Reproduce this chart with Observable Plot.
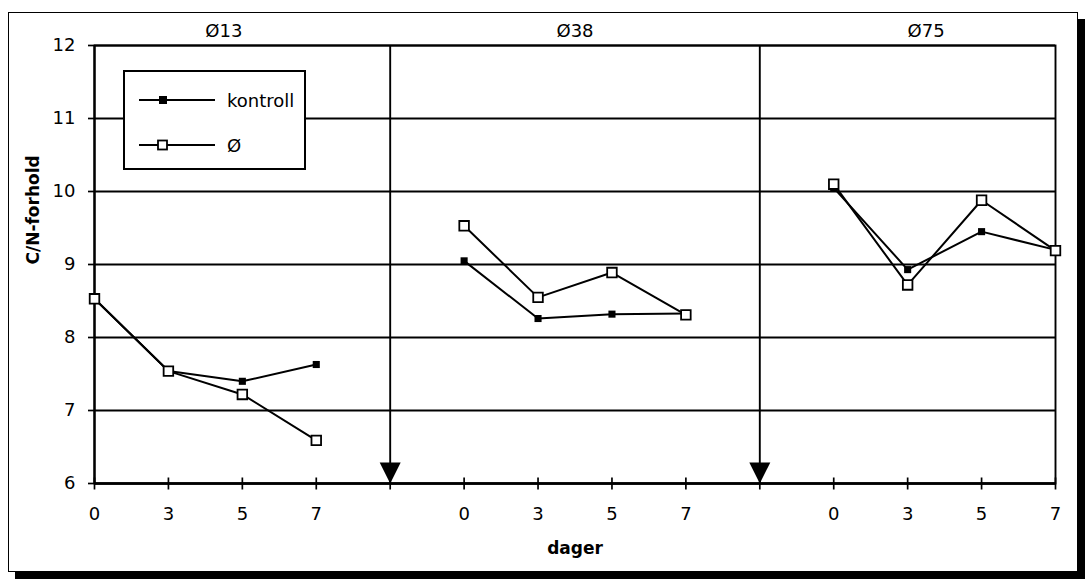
<!DOCTYPE html>
<html>
<head>
<meta charset="utf-8">
<script src="https://cdn.jsdelivr.net/npm/d3@7"></script>
<script src="https://cdn.jsdelivr.net/npm/@observablehq/plot@0.6"></script>
<style>
  html, body { margin: 0; padding: 0; background: #fff; }
  #frame {
    position: absolute; left: 8px; top: 12px; width: 1068px; height: 558px;
    border: 1.5px solid #000; box-shadow: 7px 7px 0 0 #000; background: #fff;
  }
  #chart { position: absolute; left: 0; top: 0; }
  #legend {
    position: absolute; left: 114px; top: 57px; width: 179px; height: 96px;
    border: 2px solid #000; background: #fff;
    font-family: "DejaVu Sans", sans-serif; font-size: 18px; color: #000;
  }
  #legend .row { position: absolute; left: 0; height: 24px; display: flex; align-items: center; }
  #legend svg { display: block; }
  #legend span { margin-left: 10px; }
</style>
</head>
<body>
<div id="frame">
  <div id="chart"></div>
  <div id="legend"></div>
</div>
<script>
// ---- data ----
const groupNames = ["Ø13", "Ø38", "Ø75"];
const days = [0, 3, 5, 7];
const kontroll13 = [8.53, 7.54, 7.40, 7.63];
const kontroll38 = [9.05, 8.26, 8.32, 8.33];
const kontroll75 = [10.05, 8.93, 9.45, 9.20];
const oe13 = [8.53, 7.54, 7.22, 6.59];
const oe38 = [9.53, 8.55, 8.89, 8.31];
const oe75 = [10.10, 8.72, 9.88, 9.19];
const yTicks = [6, 7, 8, 9, 10, 11, 12];
const seriesNames = ["kontroll", "Ø"];
const xTitle = "dager";
const yTitle = "C/N-forhold";

// ---- build table ----
const perGroup = days.length + 1;             // slot per day + one gap slot
const kontrollSets = [kontroll13, kontroll38, kontroll75];
const oeSets = [oe13, oe38, oe75];
const rows = [];
groupNames.forEach((g, gi) => {
  days.forEach((d, i) => {
    const slot = gi * perGroup + i;
    rows.push({group: g, series: seriesNames[0], slot, day: d, value: kontrollSets[gi][i]});
    rows.push({group: g, series: seriesNames[1], slot, day: d, value: oeSets[gi][i]});
  });
});
const lastSlot = (groupNames.length - 1) * perGroup + days.length - 1;
const slots = d3.range(0, lastSlot + 1);
const seps = d3.range(1, groupNames.length).map(gi => gi * perGroup - 1);
const dayLabel = new Map(rows.map(r => [r.slot, String(r.day)]));
const groupLabels = groupNames.map((g, gi) => {
  const first = gi * perGroup, last = first + days.length - 1;
  const dataCenter = (first + last) / 2;
  const lo = gi === 0 ? 0 : first - 1;
  const hi = gi === groupNames.length - 1 ? lastSlot : last + 1;
  return {name: g, x: (dataCenter + (lo + hi) / 2) / 2};
});
const yMin = d3.min(yTicks), yMax = d3.max(yTicks);

const vTick = {draw(ctx) { ctx.moveTo(0, -6); ctx.lineTo(0, 6); }};
const downTri = {draw(ctx) { ctx.moveTo(0, 0); ctx.lineTo(-10.5, -21); ctx.lineTo(10.5, -21); ctx.closePath(); }};

const kRows = rows.filter(r => r.series === seriesNames[0]);
const oRows = rows.filter(r => r.series === seriesNames[1]);

const chart = Plot.plot({
  width: 1068, height: 558,
  marginLeft: 85, marginRight: 22, marginTop: 32, marginBottom: 88,
  style: {fontFamily: "DejaVu Sans, sans-serif", fontSize: "18px", background: "transparent", color: "#000", overflow: "visible"},
  x: {domain: [0, lastSlot], axis: null},
  y: {domain: [yMin, yMax], axis: null},
  marks: [
    Plot.ruleY(yTicks, {stroke: "#000", strokeWidth: 1.9}),
    Plot.frame({stroke: "#000", strokeWidth: 1.9}),
    Plot.ruleX(seps, {y1: yMin, y2: yMax, stroke: "#000", strokeWidth: 1.9}),
    Plot.ruleY([yMin], {stroke: "#000", strokeWidth: 2.4}),
    Plot.ruleX([0], {stroke: "#000", strokeWidth: 2.2}),
    Plot.axisY({ticks: yTicks, tickSize: 6, tickPadding: 13, fontSize: 18, label: null, strokeWidth: 1.7,
      tickFormat: d3.format("d")}),
    Plot.axisX({ticks: slots, tickSize: 0, tickPadding: 24, fontSize: 18, label: null,
      tickFormat: d => dayLabel.get(d) ?? ""}),
    Plot.dot(slots, {x: d => d, y: yMin, symbol: vTick, stroke: "#000", strokeWidth: 1.7}),
    Plot.dot(seps, {x: d => d, y: yMin, symbol: downTri, fill: "#000", stroke: "none"}),
    Plot.line(kRows, {x: "slot", y: "value", z: "group", stroke: "#000", strokeWidth: 2}),
    Plot.line(oRows, {x: "slot", y: "value", z: "group", stroke: "#000", strokeWidth: 2}),
    Plot.dot(kRows, {x: "slot", y: "value", symbol: "square", r: 4, fill: "#000", stroke: "none"}),
    Plot.dot(oRows, {x: "slot", y: "value", symbol: "square", r: 5.4, fill: "#fff", stroke: "#000", strokeWidth: 1.8}),
    Plot.text(groupLabels, {x: "x", y: yMax, text: "name", dy: -14, fontSize: 18, lineAnchor: "middle"}),
    Plot.text([yTitle], {frameAnchor: "left", dx: -61, rotate: -90, fontWeight: "bold", fontSize: 17, lineAnchor: "middle"}),
    Plot.text([xTitle], {frameAnchor: "bottom", dy: 65, fontWeight: "bold", fontSize: 17, lineAnchor: "middle"})
  ]
});
document.getElementById("chart").append(chart);

// ---- legend (inside plot, top-left) ----
const legend = document.getElementById("legend");
const legendRows = [
  {name: seriesNames[0], top: 16, marker: '<rect x="34" y="8" width="8" height="8" fill="#000"/>'},
  {name: seriesNames[1], top: 61, marker: '<rect x="33" y="7.5" width="9" height="9" fill="#fff" stroke="#000" stroke-width="1.8"/>'}
];
legendRows.forEach(r => {
  const div = document.createElement("div");
  div.className = "row";
  div.style.top = r.top + "px";
  div.innerHTML = `<svg width="92" height="24"><line x1="14" x2="90" y1="12" y2="12" stroke="#000" stroke-width="2"/>${r.marker}</svg><span>${r.name}</span>`;
  legend.append(div);
});
</script>
</body>
</html>
